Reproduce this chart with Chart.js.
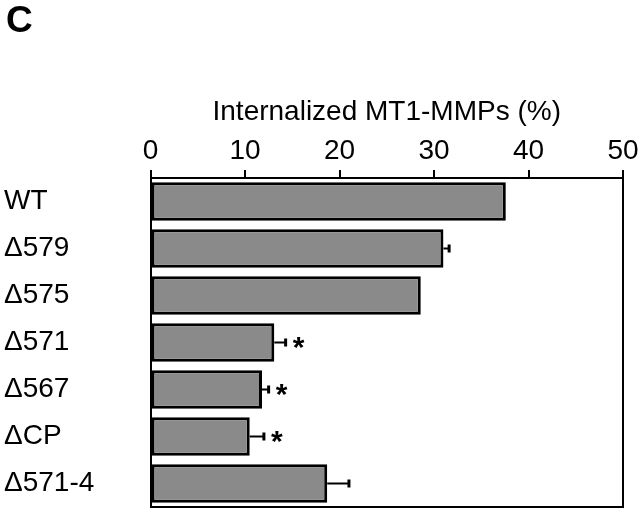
<!DOCTYPE html>
<html>
<head>
<meta charset="utf-8">
<script src="https://cdn.jsdelivr.net/npm/chart.js@4.4.1/dist/chart.umd.min.js"></script>
<style>
html,body{margin:0;padding:0;background:#fff;}
#wrap{position:relative;width:640px;height:513px;}
#panel{position:absolute;left:6px;top:1px;font:bold 37px/37px "Liberation Sans",Arial,Helvetica,sans-serif;color:#000;}
canvas{position:absolute;left:0;top:0;}
</style>
</head>
<body>
<div id="wrap">
<canvas id="c" width="640" height="513"></canvas>
<div id="panel">C</div>
</div>
<script>
const categories = ["WT", "\u0394579", "\u0394575", "\u0394571", "\u0394567", "\u0394CP", "\u0394571-4"];
const values = [37.6, 31.0, 28.6, 13.1, 11.8, 10.5, 18.7];
const errors = [0, 0.6, 0, 1.2, 0.7, 1.5, 2.3];
const significant = [false, false, false, true, true, true, false];
const xTicks = [0, 10, 20, 30, 40, 50];
const axisTitle = "Internalized MT1-MMPs (%)";

const FONT = '"Liberation Sans", Arial, Helvetica, sans-serif';

const extras = {
  id: 'extras',
  afterDatasetsDraw(chart) {
    const ctx = chart.ctx;
    const xs = chart.scales.x;
    const meta = chart.getDatasetMeta(0);
    ctx.save();
    ctx.strokeStyle = '#000';
    ctx.fillStyle = '#000';
    values.forEach((v, i) => {
      const yc = meta.data[i].y;
      const x0 = xs.getPixelForValue(v);
      const x1 = xs.getPixelForValue(v + errors[i]);
      if (errors[i] > 0) {
        ctx.lineWidth = 2;
        ctx.beginPath();
        ctx.moveTo(x0, yc);
        ctx.lineTo(x1, yc);
        ctx.stroke();
        ctx.lineWidth = 3;
        ctx.beginPath();
        ctx.moveTo(x1, yc - 4);
        ctx.lineTo(x1, yc + 4);
        ctx.stroke();
      }
      if (significant[i]) {
        ctx.font = 'bold 30px ' + FONT;
        ctx.textAlign = 'center';
        ctx.textBaseline = 'middle';
        ctx.fillText('*', x1 + 13, yc + 6);
      }
    });
    const a = chart.chartArea;
    ctx.lineWidth = 2;
    ctx.beginPath();
    ctx.moveTo(a.right, a.top);
    ctx.lineTo(a.right, a.bottom);
    ctx.lineTo(a.left, a.bottom);
    ctx.stroke();
    ctx.restore();
  }
};

new Chart(document.getElementById('c'), {
  type: 'bar',
  data: {
    labels: categories,
    datasets: [{
      data: values,
      backgroundColor: '#8a8a8a',
      borderColor: '#000',
      borderWidth: 3,
      borderSkipped: false,
      barPercentage: 0.82,
      categoryPercentage: 1.0
    }]
  },
  options: {
    indexAxis: 'y',
    responsive: false,
    animation: false,
    layout: { padding: { left: 4, right: 17, top: 0, bottom: 6 } },
    plugins: { legend: { display: false }, tooltip: { enabled: false } },
    scales: {
      x: {
        position: 'top',
        min: 0, max: 50,
        afterBuildTicks(s) { s.ticks = xTicks.map(v => ({ value: v })); },
        afterFit(s) { s.height = 178; s.paddingLeft = 0; s.paddingRight = 0; },
        ticks: { color: '#000', font: { family: FONT, size: 28 }, padding: 2, maxRotation: 0 },
        grid: { display: true, drawOnChartArea: false, drawTicks: true, tickLength: 8, color: '#000', lineWidth: 2 },
        border: { display: true, color: '#000', width: 2 },
        title: { display: true, text: axisTitle, color: '#000', font: { family: FONT, size: 28 }, padding: { top: 95, bottom: 0 } }
      },
      y: {
        afterFit(s) { s.width = 146.5; s.paddingTop = 0; s.paddingBottom = 0; },
        ticks: { color: '#000', font: { family: FONT, size: 28 }, crossAlign: 'far', padding: 0 },
        grid: { display: false },
        border: { display: true, color: '#000', width: 2 }
      }
    }
  },
  plugins: [extras]
});
</script>
</body>
</html>
